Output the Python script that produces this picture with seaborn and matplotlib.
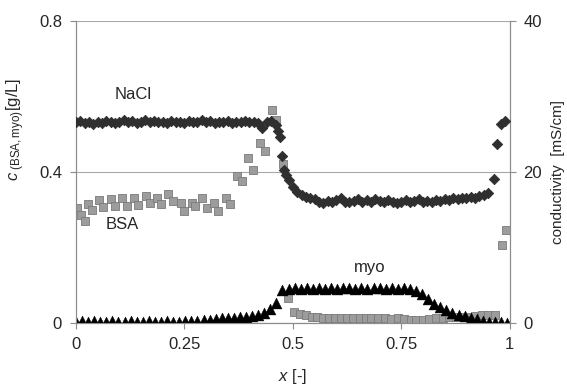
import numpy as np
import pandas as pd
import seaborn as sns
import matplotlib.pyplot as plt

# BSA concentration [g/L], left axis
bsa_x = [0.002, 0.011, 0.021, 0.028, 0.038, 0.054, 0.063, 0.081, 0.090, 0.107,
         0.117, 0.134, 0.144, 0.161, 0.170, 0.187, 0.197, 0.213, 0.224, 0.241,
         0.249, 0.267, 0.274, 0.291, 0.301, 0.318, 0.328, 0.345, 0.356, 0.372,
         0.382, 0.397, 0.407, 0.424, 0.435, 0.453, 0.462, 0.478, 0.488, 0.502,
         0.516, 0.530, 0.543, 0.556, 0.569, 0.583, 0.597, 0.612, 0.624, 0.639,
         0.654, 0.668, 0.681, 0.696, 0.712, 0.727, 0.742, 0.756, 0.773, 0.785,
         0.800, 0.815, 0.830, 0.845, 0.860, 0.875, 0.890, 0.905, 0.920, 0.935,
         0.950, 0.965, 0.983, 0.992]
bsa_c = [0.306, 0.287, 0.271, 0.315, 0.300, 0.327, 0.308, 0.328, 0.310, 0.331,
         0.311, 0.331, 0.312, 0.336, 0.317, 0.331, 0.315, 0.343, 0.324, 0.318,
         0.296, 0.318, 0.310, 0.332, 0.304, 0.318, 0.296, 0.331, 0.315, 0.389,
         0.376, 0.438, 0.405, 0.478, 0.457, 0.565, 0.539, 0.422, 0.066, 0.028,
         0.024, 0.020, 0.017, 0.015, 0.013, 0.013, 0.013, 0.013, 0.013, 0.013,
         0.013, 0.013, 0.013, 0.013, 0.012, 0.011, 0.012, 0.010, 0.009, 0.009,
         0.009, 0.010, 0.012, 0.013, 0.015, 0.016, 0.016, 0.017, 0.018, 0.020,
         0.021, 0.021, 0.206, 0.247]

# myoglobin concentration [g/L], left axis
myo_x = [0.000, 0.014, 0.028, 0.042, 0.056, 0.070, 0.084, 0.098, 0.112, 0.126,
         0.140, 0.154, 0.168, 0.182, 0.196, 0.210, 0.224, 0.238, 0.252, 0.266,
         0.280, 0.294, 0.308, 0.322, 0.336, 0.350, 0.364, 0.378, 0.392, 0.406,
         0.420, 0.434, 0.448, 0.462, 0.476, 0.490, 0.504, 0.518, 0.532, 0.546,
         0.560, 0.574, 0.588, 0.602, 0.616, 0.630, 0.644, 0.658, 0.672, 0.686,
         0.700, 0.714, 0.728, 0.742, 0.756, 0.770, 0.784, 0.798, 0.812, 0.826,
         0.840, 0.854, 0.868, 0.882, 0.896, 0.910, 0.924, 0.938, 0.952, 0.966,
         0.980, 0.994]
myo_c = [0.003, 0.004, 0.002, 0.004, 0.003, 0.002, 0.004, 0.003, 0.002, 0.004,
         0.003, 0.002, 0.004, 0.003, 0.002, 0.004, 0.003, 0.003, 0.004, 0.005,
         0.006, 0.008, 0.009, 0.010, 0.012, 0.013, 0.014, 0.015, 0.017, 0.018,
         0.022, 0.027, 0.036, 0.053, 0.087, 0.091, 0.093, 0.090, 0.094, 0.091,
         0.093, 0.090, 0.094, 0.091, 0.092, 0.094, 0.090, 0.093, 0.091, 0.094,
         0.092, 0.090, 0.093, 0.091, 0.092, 0.091, 0.086, 0.076, 0.063, 0.051,
         0.042, 0.035, 0.027, 0.022, 0.018, 0.014, 0.010, 0.006, 0.003, 0.002,
         0.002, 0.001]

# NaCl conductivity [mS/cm], right axis
nacl_x = [0.00, 0.01, 0.02, 0.03, 0.04, 0.05, 0.06, 0.07, 0.08, 0.09,
          0.10, 0.11, 0.12, 0.13, 0.14, 0.15, 0.16, 0.17, 0.18, 0.19,
          0.20, 0.21, 0.22, 0.23, 0.24, 0.25, 0.26, 0.27, 0.28, 0.29,
          0.30, 0.31, 0.32, 0.33, 0.34, 0.35, 0.36, 0.37, 0.38, 0.39,
          0.40, 0.41, 0.42, 0.43, 0.44, 0.45, 0.46, 0.465, 0.47, 0.475,
          0.48, 0.485, 0.49, 0.50, 0.51, 0.52, 0.53, 0.54, 0.55, 0.56,
          0.57, 0.58, 0.59, 0.60, 0.61, 0.62, 0.63, 0.64, 0.65, 0.66,
          0.67, 0.68, 0.69, 0.70, 0.71, 0.72, 0.73, 0.74, 0.75, 0.76,
          0.77, 0.78, 0.79, 0.80, 0.81, 0.82, 0.83, 0.84, 0.85, 0.86,
          0.87, 0.88, 0.89, 0.90, 0.91, 0.92, 0.93, 0.94, 0.95, 0.963,
          0.970, 0.980, 0.988]
nacl_k = [26.6, 26.8, 26.5, 26.7, 26.4, 26.6, 26.5, 26.8, 26.6, 26.5,
          26.7, 26.9, 26.6, 26.8, 26.5, 26.7, 26.9, 26.6, 26.8, 26.6,
          26.7, 26.5, 26.8, 26.6, 26.7, 26.5, 26.8, 26.6, 26.7, 26.9,
          26.6, 26.8, 26.5, 26.7, 26.6, 26.8, 26.5, 26.7, 26.6, 26.8,
          26.6, 26.7, 26.5, 25.8, 26.6, 26.8, 26.2, 25.5, 24.6, 22.1,
          20.3, 19.6, 18.9, 18.0, 17.3, 16.9, 16.7, 16.5, 16.4, 16.1,
          15.9, 16.2, 16.0, 16.3, 16.5, 16.1, 16.0, 16.2, 16.4, 16.1,
          16.3, 16.0, 16.4, 16.2, 16.1, 16.3, 16.0, 15.9, 16.1, 16.3,
          16.0, 16.2, 16.4, 16.1, 16.2, 16.0, 16.3, 16.2, 16.4, 16.3,
          16.5, 16.4, 16.6, 16.5, 16.7, 16.6, 16.8, 17.0, 17.2, 19.1,
          23.7, 26.4, 26.8]

bsa = pd.DataFrame({"x": bsa_x, "c": bsa_c})
myo = pd.DataFrame({"x": myo_x, "c": myo_c})
nacl = pd.DataFrame({"x": nacl_x, "k": nacl_k})

sns.set_theme(style="white")
plt.rcParams['font.family'] = ['Liberation Sans', 'DejaVu Sans']
plt.rcParams['mathtext.fontset'] = 'custom'
plt.rcParams['mathtext.rm'] = 'Liberation Sans'
plt.rcParams['mathtext.it'] = 'Liberation Sans:italic'

fig, ax = plt.subplots(figsize=(5.67, 3.92), dpi=100)
fig.subplots_adjust(left=0.134, right=0.899, bottom=0.176, top=0.946)
ax2 = ax.twinx()

sns.scatterplot(data=bsa, x="x", y="c", marker="s", s=40, color="#9c9c9c",
                edgecolor="#7a7a7a", linewidth=0.6, ax=ax, zorder=3)
sns.scatterplot(data=myo, x="x", y="c", marker="^", s=62, color="black",
                edgecolor="black", linewidth=0.3, ax=ax, zorder=4)
sns.scatterplot(data=nacl, x="x", y="k", marker="D", s=28, color="#2f2f2f",
                edgecolor="#2f2f2f", linewidth=0.6, ax=ax2, zorder=3)

gray = "#8c8c8c"
fs = 12
ax.set_xlim(0, 1)
ax.set_ylim(0, 0.8)
ax2.set_ylim(0, 40)
ax.set_xticks([0, 0.25, 0.5, 0.75, 1], ["0", "0.25", "0.5", "0.75", "1"])
ax.set_yticks([0, 0.4, 0.8], ["0", "0.4", "0.8"])
ax2.set_yticks([0, 20, 40], ["0", "20", "40"])

ax.grid(axis="y", color="#a8a8a8", linewidth=0.8)
ax.set_axisbelow(True)
for a in (ax, ax2):
    a.spines["top"].set_visible(False)
    for s in ("left", "right", "bottom"):
        a.spines[s].set_color(gray)
        a.spines[s].set_linewidth(0.8)
ax.tick_params(axis="both", which="major", bottom=True, left=True, direction="out",
               length=4, width=0.8, color=gray, labelsize=fs, pad=6)
ax2.tick_params(axis="y", right=True, direction="out", length=4, width=0.8,
                color=gray, labelsize=fs, pad=6)

ax.set_xlabel(r"$x$ [-]", fontsize=fs)
ax.xaxis.set_label_coords(0.5, -0.145)
ax.set_ylabel(r"$c_{\ \mathrm{(BSA,myo)}}$[g/L]", fontsize=fs)
ax.yaxis.set_label_coords(-0.113, 0.64)
ax2.set_ylabel("conductivity  [mS/cm]", fontsize=11)
ax2.yaxis.set_label_coords(1.094, 0.5)

ax.text(0.131, 0.605, "NaCl", fontsize=fs, ha="center", va="center")
ax.text(0.106, 0.26, "BSA", fontsize=fs, ha="center", va="center")
ax.text(0.677, 0.147, "myo", fontsize=fs, ha="center", va="center")

fig.savefig("out.png", dpi=100, facecolor="white")
